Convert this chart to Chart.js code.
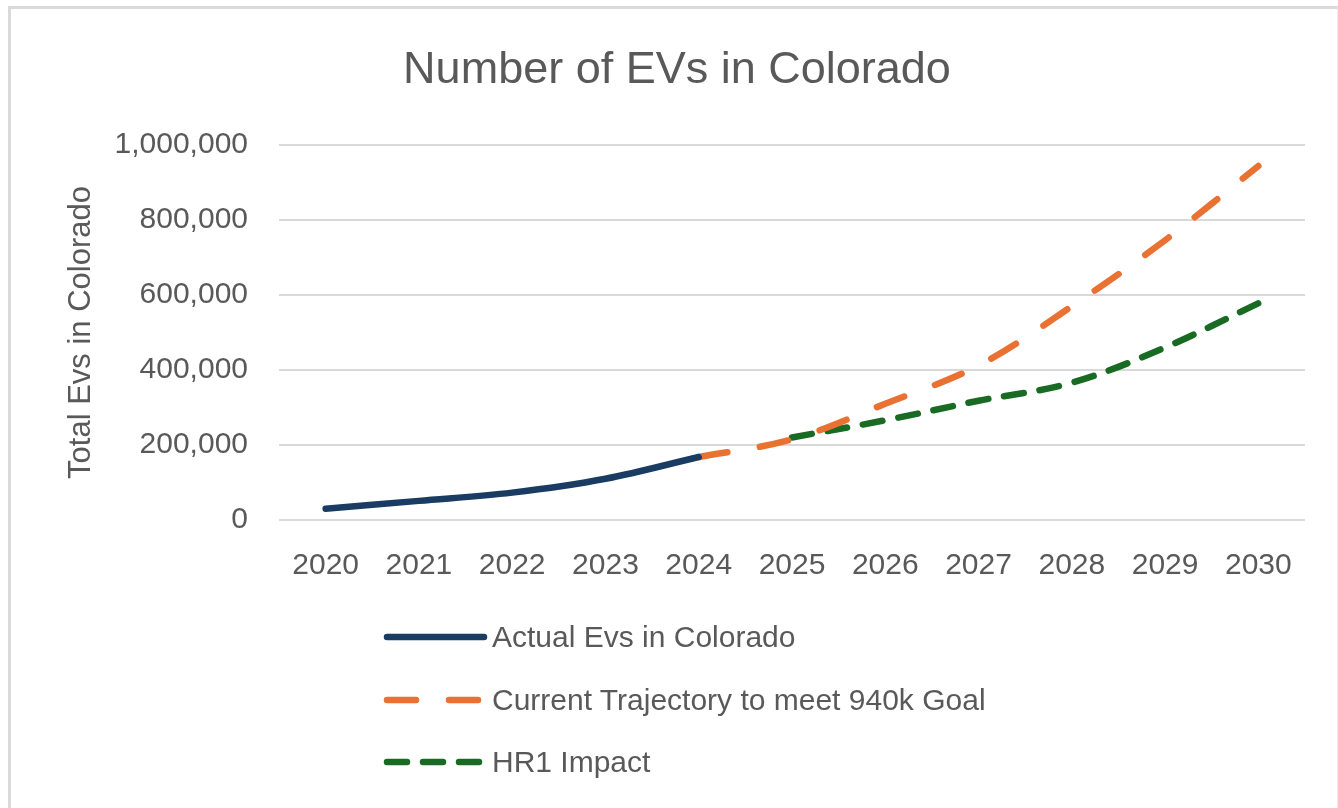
<!DOCTYPE html>
<html lang="en">
<head>
<meta charset="utf-8">
<title>Number of EVs in Colorado</title>
<script src="https://cdn.jsdelivr.net/npm/chart.js@4.4.1/dist/chart.umd.min.js"></script>
<style>
    html, body { margin: 0; padding: 0; background: #fff; overflow: hidden; }
    #wrap { position: relative; width: 1338px; height: 808px; }
    #frame {
        position: absolute; left: 8px; top: 6px; width: 1326px; height: 810px;
        border-left: 3px solid #dadada; border-top: 3px solid #dadada; border-right: 1px solid #ececec;
    }
    #main-chart { position: absolute; left: 0; top: 0; }
    #legend { position: absolute; left: 383px; top: 606px; }
    #legend .item { display: flex; align-items: center; height: 62.5px; }
    #legend svg { display: block; margin-right: 1px; }
    #legend span { font: 30px 'Liberation Sans', Arial, sans-serif; color: #595959; }
</style>
</head>
<body>
<div id="wrap">
    <div id="frame"></div>
    <canvas id="main-chart" width="1338" height="808"></canvas>
    <div id="legend"></div>
</div>
<script>
// values
const years = ['2020', '2021', '2022', '2023', '2024', '2025', '2026', '2027', '2028', '2029', '2030'];
const actualEvs = [30000, 51000, 73000, 110000, 168000, null, null, null, null, null, null];
const goalTrajectory = [null, null, null, null, 168000, 215000, 310000, 412000, 570000, 746000, 944000];
const hr1Impact = [null, null, null, null, null, 220000, 266000, 318000, 366000, 460000, 578000];
const seriesNames = ['Actual Evs in Colorado', 'Current Trajectory to meet 940k Goal', 'HR1 Impact'];

const textColor = '#595959';
const gridColor = '#d9d9d9';
Chart.defaults.font.family = "'Liberation Sans', Arial, sans-serif";
Chart.defaults.color = textColor;

let mainChart = null;

function lineStyle(color, dash) {
    return {
        borderColor: color,
        backgroundColor: color,
        borderWidth: 6.5,
        borderDash: dash,
        borderCapStyle: 'round',
        borderJoinStyle: 'round',
        pointRadius: 0,
        pointHoverRadius: 0,
        tension: 0.35,
        fill: false
    };
}

function renderMainChart() {
    const canvas = document.getElementById('main-chart');
    if (mainChart) mainChart.destroy();

    mainChart = new Chart(canvas, {
        type: 'line',
        data: {
            labels: years,
            datasets: [
                { label: seriesNames[0], data: actualEvs, ...lineStyle('#1a3c62', []) },
                { label: seriesNames[1], data: goalTrajectory, ...lineStyle('#e97132', [29, 33]) },
                { label: seriesNames[2], data: hr1Impact, ...lineStyle('#196b24', [20, 16]) }
            ]
        },
        options: {
            responsive: false,
            animation: false,
            events: [],
            layout: { padding: { left: 49, right: 33, top: 0, bottom: 204 } },
            plugins: {
                legend: { display: false },
                tooltip: { enabled: false },
                title: {
                    display: true,
                    text: 'Number of EVs in Colorado',
                    color: textColor,
                    font: { size: 45, weight: 'normal' },
                    padding: { top: 43.5, bottom: 47.5 }
                }
            },
            scales: {
                x: {
                    offset: true,
                    grid: { display: false },
                    border: { display: false },
                    ticks: { font: { size: 30 }, color: textColor, padding: 20, maxRotation: 0 }
                },
                y: {
                    min: 0,
                    max: 1000000,
                    grid: { color: gridColor, lineWidth: 2, drawTicks: false },
                    border: { display: false },
                    ticks: {
                        stepSize: 200000,
                        font: { size: 30 },
                        color: textColor,
                        padding: 31,
                        callback: v => v.toLocaleString('en-US')
                    },
                    title: {
                        display: true,
                        text: 'Total Evs in Colorado',
                        color: textColor,
                        font: { size: 31 },
                        padding: { top: 13.4, bottom: 0 }
                    },
                    afterFit: scale => { scale.width = 230; }
                }
            }
        }
    });
    renderLegend(mainChart);
}

// Excel style legend: one entry per row, line sample then label
function renderLegend(chart) {
    const legendEl = document.getElementById('legend');
    legendEl.innerHTML = '';
    chart.data.datasets.forEach(ds => {
        const item = document.createElement('div');
        item.className = 'item';
        const dash = ds.borderDash.length ? `stroke-dasharray="${ds.borderDash.join(' ')}"` : '';
        item.innerHTML = `
            <svg width="108" height="20"><line x1="4" y1="10" x2="101" y2="10" stroke="${ds.borderColor}"
                stroke-width="${ds.borderWidth}" stroke-linecap="round" ${dash}/></svg>
            <span>${ds.label}</span>`;
        legendEl.appendChild(item);
    });
}

renderMainChart();
</script>
</body>
</html>
